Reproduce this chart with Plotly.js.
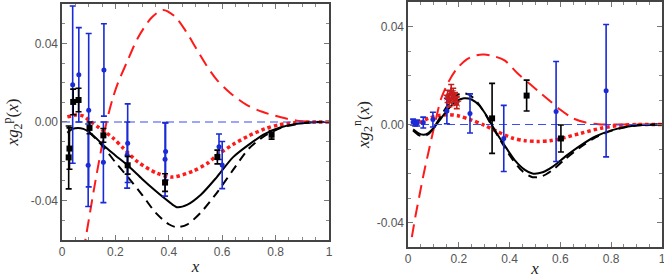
<!DOCTYPE html>
<html>
<head>
<meta charset="utf-8">
<script src="https://cdn.plot.ly/plotly-3.0.1.min.js"></script>
<style>html,body{margin:0;padding:0;background:#fff;}#chart{width:664px;height:278px;}</style>
</head>
<body>
<div id="chart"></div>
<script>
// ---------- Proton panel (left) ----------
const pRedDashX = [0.08,0.10,0.12,0.14,0.167,0.19,0.21,0.245,0.285,0.335,0.378,0.42,0.46,0.50,0.54,0.58,0.63,0.69,0.75,0.82,0.88,0.94,1.0];
const pRedDashY = [-0.066,-0.050,-0.034,-0.019,0.0,0.012,0.020,0.031,0.043,0.053,0.057,0.054,0.047,0.038,0.029,0.0214,0.0148,0.0088,0.0052,0.0024,0.0007,0.0001,0.0];

const pSolidX = [0.02,0.04,0.06,0.08,0.10,0.13,0.16,0.20,0.25,0.30,0.35,0.40,0.43,0.47,0.52,0.58,0.64,0.70,0.76,0.82,0.88,0.94,1.0];
const pSolidY = [-0.0055,-0.0035,-0.003,-0.0035,-0.005,-0.0085,-0.0125,-0.017,-0.0225,-0.029,-0.035,-0.0405,-0.0433,-0.042,-0.037,-0.028,-0.018,-0.0115,-0.006,-0.0027,-0.0009,-0.0001,0.0];

const pDashX = [0.10,0.13,0.16,0.20,0.25,0.30,0.35,0.40,0.43,0.47,0.52,0.58,0.64,0.70,0.76,0.82,0.88,0.94,1.0];
const pDashY = [-0.005,-0.009,-0.0135,-0.0205,-0.0285,-0.037,-0.046,-0.052,-0.0535,-0.052,-0.046,-0.036,-0.0245,-0.0135,-0.007,-0.003,-0.001,-0.0001,0.0];

const pDotX = [0.02,0.05,0.08,0.10,0.14,0.19,0.23,0.285,0.355,0.415,0.49,0.545,0.58,0.64,0.70,0.76,0.81,0.87,0.93,1.0];
const pDotY = [0.0026,0.0035,0.003,0.001,-0.003,-0.008,-0.0133,-0.0204,-0.026,-0.028,-0.025,-0.021,-0.017,-0.0115,-0.007,-0.0035,-0.0015,-0.0004,0.0,0.0];

const pBlueX = [0.040,0.063,0.100,0.098,0.157,0.155,0.246,0.244,0.388,0.386,0.588,0.600];
const pBlueY = [0.019,0.024,0.006,-0.022,0.0265,-0.0205,-0.0108,-0.0168,-0.015,-0.019,-0.0126,-0.0219];
const pBlueErr = [0.040,0.024,0.039,0.021,0.0235,0.0205,0.020,0.0168,0.0145,0.0187,0.0065,0.012];

const pBlackX = [0.025,0.028,0.042,0.062,0.103,0.155,0.246,0.386,0.582,0.785];
const pBlackY = [-0.018,-0.0135,0.0102,0.0112,-0.003,-0.0068,-0.022,-0.0308,-0.0178,-0.0065];
const pBlackErr = [0.016,0.0105,0.0065,0.006,0.003,0.0035,0.0045,0.0045,0.0035,0.0022];

// ---------- Neutron panel (right) ----------
const nRedDashX = [0.015,0.03,0.045,0.06,0.08,0.105,0.13,0.16,0.19,0.23,0.27,0.30,0.34,0.38,0.43,0.48,0.52,0.56,0.60,0.65,0.70,0.75,0.80,1.0];
const nRedDashY = [-0.046,-0.037,-0.029,-0.021,-0.0115,0.0,0.0105,0.0175,0.0225,0.0265,0.0283,0.0286,0.0278,0.0262,0.021,0.0165,0.013,0.0095,0.006,0.0025,0.0008,0.0001,0.0,0.0];

const nSolidX = [0.02,0.04,0.06,0.08,0.10,0.13,0.16,0.19,0.22,0.25,0.28,0.31,0.34,0.38,0.42,0.46,0.49,0.53,0.57,0.62,0.68,0.74,0.80,0.86,0.92,1.0];
const nSolidY = [-0.002,-0.0035,-0.0042,-0.0035,-0.0015,0.0025,0.0065,0.0095,0.0107,0.0102,0.0078,0.0035,-0.002,-0.0085,-0.0145,-0.0185,-0.020,-0.0195,-0.0172,-0.013,-0.0085,-0.0048,-0.0024,-0.0009,-0.0002,0.0];

const nDashX = [0.02,0.04,0.06,0.08,0.10,0.13,0.16,0.19,0.215,0.24,0.27,0.30,0.33,0.37,0.41,0.45,0.49,0.53,0.57,0.62,0.68,0.74,0.80,0.86,0.92,1.0];
const nDashY = [-0.0025,-0.0042,-0.0048,-0.004,-0.0015,0.0035,0.0085,0.0118,0.0128,0.0122,0.0095,0.005,-0.0005,-0.0075,-0.014,-0.019,-0.0215,-0.021,-0.0185,-0.014,-0.0092,-0.0052,-0.0026,-0.001,-0.0002,0.0];

const nDotX = [0.02,0.05,0.08,0.12,0.16,0.20,0.25,0.30,0.35,0.41,0.46,0.51,0.56,0.60,0.68,0.76,0.83,0.90,1.0];
const nDotY = [-0.0002,0.001,0.0025,0.0036,0.004,0.0035,0.0018,-0.0003,-0.0028,-0.0055,-0.0066,-0.0069,-0.0066,-0.0058,-0.0036,-0.0015,-0.0004,0.0,0.0];

const nBlueX = [0.020,0.028,0.036,0.060,0.098,0.153,0.244,0.377,0.583,0.780];
const nBlueY = [0.0010,0.0004,0.0006,0.0008,0.0020,0.0055,0.0045,-0.0057,0.0053,0.0138];
const nBlueErr = [0.0012,0.001,0.0012,0.0022,0.003,0.0052,0.008,0.0135,0.0204,0.027];

const nBlackX = [0.331,0.467,0.602];
const nBlackY = [0.0025,0.0118,-0.0057];
const nBlackErr = [0.0143,0.0063,0.0055];

const nStarX = [0.156,0.163,0.170,0.178,0.185,0.192];
const nStarY = [0.0115,0.0098,0.0133,0.0120,0.0105,0.0090];
const nStarErr = [0.0025,0.0025,0.003,0.0028,0.0025,0.0025];

const zeroX = [0,1];
const zeroY = [0,0];

// ---------- styles ----------
const RED = '#ff1a1a', BLUE = '#1a2bd6', STAR = '#c41e1e';
function line(x,y,xa,ya,color,width,dash){
  return {x:x,y:y,xaxis:xa,yaxis:ya,type:'scatter',mode:'lines',
    line:{color:color,width:width,dash:dash,shape:'spline',smoothing:0.8},hoverinfo:'skip',showlegend:false};
}
function pts(x,y,e,xa,ya,color,symbol,size){
  return {x:x,y:y,xaxis:xa,yaxis:ya,type:'scatter',mode:'markers',
    marker:{color:color,symbol:symbol,size:size},
    error_y:{type:'data',array:e,visible:true,color:color,thickness:1.6,width:3},
    showlegend:false};
}

const traces = [
  line(pRedDashX,pRedDashY,'x','y',RED,2,'13px,7px'),
  line(pDotX,pDotY,'x','y',RED,3.5,'3.5px,3px'),
  line(pSolidX,pSolidY,'x','y','#000',2,'solid'),
  line(pDashX,pDashY,'x','y','#000',2,'9px,6px'),
  line(zeroX,zeroY,'x','y','#3a4df0',1.2,'8px,5px'),
  pts(pBlueX,pBlueY,pBlueErr,'x','y',BLUE,'circle',5),
  pts(pBlackX,pBlackY,pBlackErr,'x','y','#000','square',6),

  line(nRedDashX,nRedDashY,'x2','y2',RED,2,'13px,7px'),
  line(nDotX,nDotY,'x2','y2',RED,3.5,'3.5px,3px'),
  line(nSolidX,nSolidY,'x2','y2','#000',2,'solid'),
  line(nDashX,nDashY,'x2','y2','#000',2,'9px,6px'),
  line(zeroX,zeroY,'x2','y2','#3a4df0',1.2,'8px,5px'),
  pts(nBlueX,nBlueY,nBlueErr,'x2','y2',BLUE,'circle',5),
  pts(nBlackX,nBlackY,nBlackErr,'x2','y2','#000','square',6),
  pts(nStarX,nStarY,nStarErr,'x2','y2',STAR,'star',8)
];

const tickFont = {family:'Liberation Sans, Arial, sans-serif', size:12, color:'#555'};
const titleFont = {family:'Liberation Serif, Times New Roman, serif', size:17, color:'#222'};
function xax(domain, anchor){
  return {domain:domain, anchor:anchor, range:[0,1], dtick:0.2, tick0:0,
    ticks:'inside', ticklen:5, tickwidth:1, tickcolor:'#777',
    minor:{dtick:0.05, ticks:'inside', ticklen:3, tickcolor:'#888'},
    showline:true, linecolor:'#444', linewidth:1.6, mirror:'ticks',
    showgrid:false, zeroline:false, tickfont:tickFont, ticklabeloverflow:'allow',
    title:{text:'<i>x</i>', font:titleFont, standoff:2}};
}
function yax(domain, anchor, range, title, standoff){
  return {domain:domain, anchor:anchor, range:range,
    tickvals:[-0.04,0,0.04], ticktext:['-0.04','0.00','0.04'],
    ticks:'inside', ticklen:5, tickwidth:1, tickcolor:'#777',
    minor:{dtick:0.01, tick0:0, ticks:'inside', ticklen:3, tickcolor:'#888'},
    showline:true, linecolor:'#444', linewidth:1.6, mirror:'ticks',
    showgrid:false, zeroline:false, tickfont:tickFont,
    title:{text:title, font:titleFont, standoff:standoff}};
}

const layout = {
  width:664, height:278,
  margin:{l:62, r:2, t:2, b:31},
  paper_bgcolor:'#fff', plot_bgcolor:'#fff',
  showlegend:false,
  xaxis: xax([0,0.445],'y'),
  yaxis: yax([0.0286,0.9918],'x',[-0.06,0.06],'<i>xg</i><sub>2</sub><sup>p</sup>(<i>x</i>)',8),
  xaxis2: xax([0.5767,1],'y2'),
  yaxis2: yax([0,1],'x2',[-0.05,0.05],'<i>xg</i><sub>2</sub><sup>n</sup>(<i>x</i>)',3)
};

Plotly.newPlot('chart', traces, layout, {staticPlot:true, displayModeBar:false});
</script>
</body>
</html>
